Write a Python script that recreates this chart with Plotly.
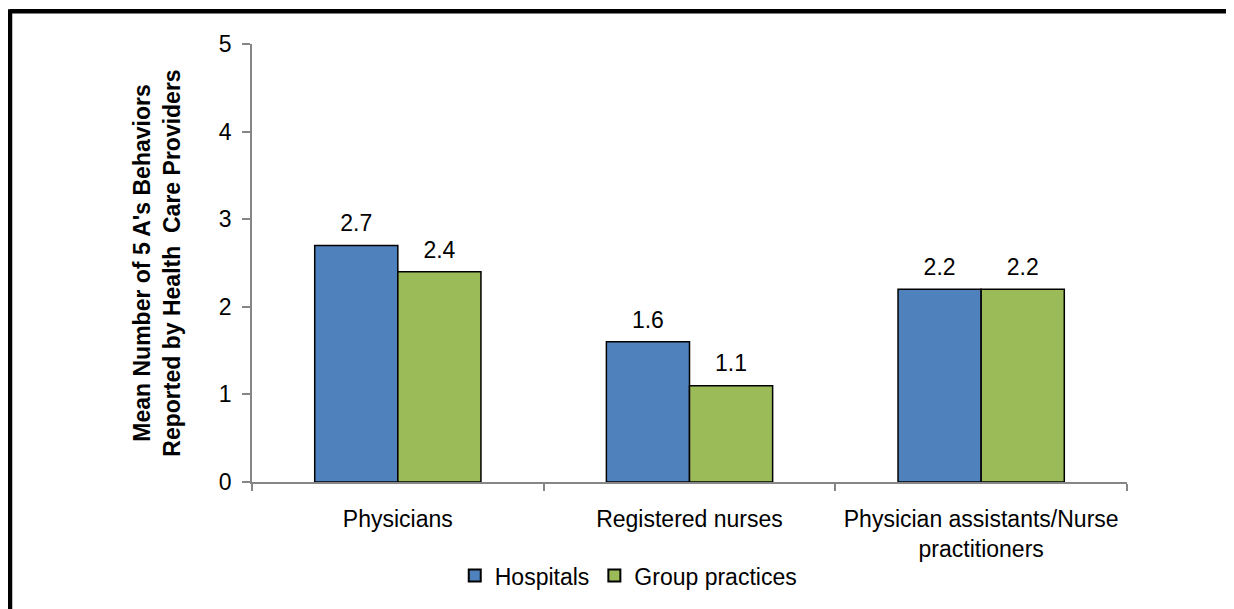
import plotly.graph_objects as go

categories = ["Physicians", "Registered nurses", "Physician assistants/Nurse<br>practitioners"]
hospitals = [2.7, 1.6, 2.2]
group_practices = [2.4, 1.1, 2.2]
series_names = ["Hospitals", "Group practices"]
colors = ["#4F81BD", "#9BBB59"]
y_ticks = [0, 1, 2, 3, 4, 5]

# page body has an 8px margin, so the figure is placed at (8, 8)
OFF = 8
W, H = 1234 - OFF, 609 - OFF
ML, MT = 252 - OFF, 44 - OFF
MR = W - (1127 - OFF)
MB = H - (484 - OFF)
FONT = "Liberation Sans, Arial, sans-serif"
AXC = "#868686"
FS = 23

fig = go.Figure()
for name, vals, col in zip(series_names, [hospitals, group_practices], colors):
    fig.add_trace(go.Bar(
        x=categories, y=vals, name=name, marker=dict(color=col, line=dict(color="#000000", width=1.5)),
        offsetgroup=name,
    ))
for name, vals in zip(series_names, [hospitals, group_practices]):
    fig.add_trace(go.Scatter(
        x=categories, y=vals, mode="markers+text", text=[f"{v:.1f}" for v in vals],
        textposition="top center", textfont=dict(family=FONT, size=FS, color="#000000"),
        marker=dict(size=12, opacity=0), showlegend=False, hoverinfo="skip",
        offsetgroup=name,
    ))

pw = W - ML - MR
ph = H - MT - MB
fig.update_layout(
    width=W, height=H, margin=dict(l=ML, r=MR, t=MT, b=MB),
    paper_bgcolor="white", plot_bgcolor="white",
    barmode="group", bargap=0.43, bargroupgap=0, scattermode="group", scattergap=0.43,
    font=dict(family=FONT, size=FS, color="#000000"),
    showlegend=True,
    legend=dict(orientation="h", x=0.43, xanchor="center", y=(H - MB - (578 - OFF)) / ph, yanchor="middle",
                font=dict(family=FONT, size=FS), itemsizing="constant", traceorder="normal",
                itemwidth=30, bgcolor="rgba(0,0,0,0)"),
    xaxis=dict(type="category", showline=True, linecolor=AXC, linewidth=1.5, ticks="outside",
               tickson="boundaries", ticklen=7, tickcolor=AXC, tickwidth=1.5,
               ticklabelstandoff=16, showgrid=False, zeroline=False,
               tickfont=dict(family=FONT, size=FS)),
    yaxis=dict(range=[0, 5], tickvals=y_ticks, showline=True, linecolor=AXC, linewidth=1.5,
               ticks="outside", ticklen=8, tickcolor=AXC, tickwidth=1.5, showgrid=False,
               zeroline=False, ticklabelstandoff=6, tickfont=dict(family=FONT, size=FS),
               title=dict(text="<b>Mean Number of 5 A's Behaviors<br>Reported by Health  Care Providers</b>",
                          font=dict(family=FONT, size=23), standoff=32)),
    shapes=[
        dict(type="line", xref="paper", yref="paper", x0=(10 - OFF - ML) / pw, x1=(W + 5 - ML) / pw,
             y0=(H - MB - (11 - OFF)) / ph, y1=(H - MB - (11 - OFF)) / ph, line=dict(color="black", width=4.5)),
        dict(type="line", xref="paper", yref="paper", x0=(10 - OFF - ML) / pw, x1=(10 - OFF - ML) / pw,
             y0=(H - MB - (9 - OFF)) / ph, y1=(H - MB - H - 5) / ph, line=dict(color="black", width=4.5)),
    ],
)

fig.write_html("out.html")
